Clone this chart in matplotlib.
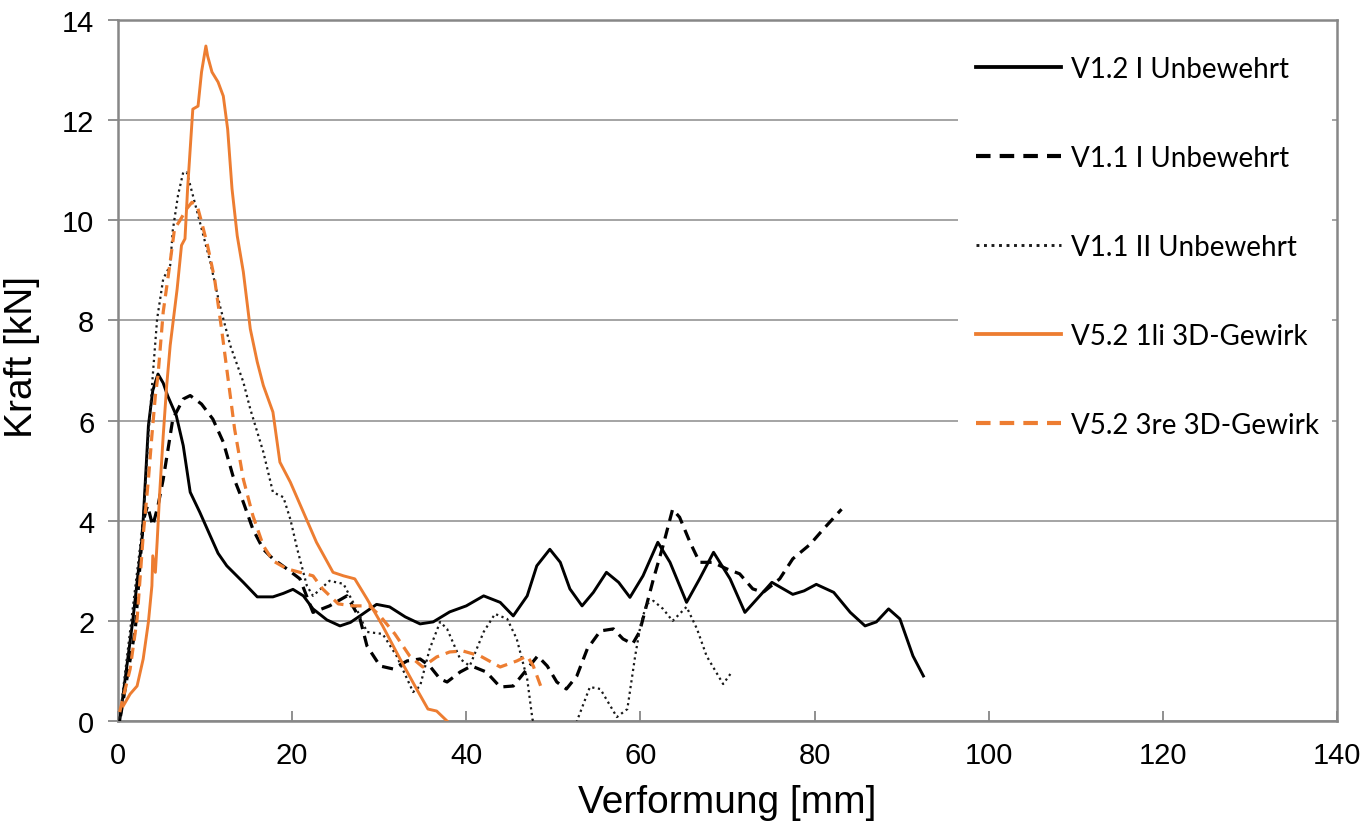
import matplotlib
matplotlib.use('Agg')
import matplotlib.pyplot as plt
from matplotlib.patches import Rectangle

# Data: Verformung [mm] vs Kraft [kN]
LABELS = ['V1.2 I Unbewehrt', 'V1.1 I Unbewehrt', 'V1.1 II Unbewehrt',
          'V5.2 1li 3D-Gewirk', 'V5.2 3re 3D-Gewirk']

v12_x = [0.2, 1.7, 2.8, 3.5, 4.0, 4.6, 5.2, 5.7, 6.7, 7.5, 8.3, 9.4, 10.6, 11.5, 12.5, 14.4,
         16.0, 17.8, 19.0, 20.1, 21.3, 22.4, 24.0, 25.5, 26.7, 27.8, 29.7, 31.2, 33.0, 34.7, 36.2, 38.1,
         40.0, 42.0, 43.9, 45.4, 47.0, 48.1, 49.6, 50.8, 51.9, 53.3, 54.6, 56.1,
         57.5, 58.8, 60.3, 62.0, 63.4, 65.3, 66.8, 68.4, 70.3, 72.0, 73.4, 75.1,
         76.4, 77.5, 78.8, 80.2, 82.2, 84.1, 85.8, 87.1, 88.5, 89.8, 91.3, 92.5]
v12_y = [0.0, 2.0, 3.7, 5.9, 6.6, 6.93, 6.75, 6.5, 6.1, 5.5, 4.57, 4.17, 3.7, 3.35, 3.1, 2.77,
         2.48, 2.48, 2.55, 2.63, 2.5, 2.24, 2.02, 1.9, 1.97, 2.1, 2.33, 2.28, 2.08, 1.94, 1.98, 2.18,
         2.3, 2.5, 2.37, 2.1, 2.5, 3.1, 3.43, 3.17, 2.64, 2.3, 2.57, 2.97,
         2.77, 2.47, 2.9, 3.57, 3.17, 2.37, 2.84, 3.37, 2.84, 2.17, 2.44, 2.77,
         2.64, 2.53, 2.6, 2.73, 2.57, 2.17, 1.9, 1.98, 2.24, 2.04, 1.3, 0.9]

v11_x = [0.3, 2.0, 2.9, 3.4, 4.0, 4.6, 5.2, 5.7, 6.3, 7.5, 8.3, 9.6, 10.9, 12.1,
         13.2, 14.4, 15.5, 16.7, 17.8, 19.4, 20.9, 22.4, 24.3, 26.3, 27.8, 28.6,
         30.1, 31.6, 33.2, 34.7, 35.8, 37.0, 37.8, 39.3, 40.6, 42.3, 43.9, 45.4,
         47.0, 48.2, 49.3, 50.4, 51.5, 52.7, 53.9, 55.4, 56.9, 58.0, 59.1, 59.9,
         61.5, 62.6, 63.7, 64.5, 65.7, 66.8, 68.3, 69.9, 71.4, 72.9, 74.1, 76.0,
         77.5, 79.5, 81.0, 83.1]
v11_y = [0.1, 1.84, 4.0, 4.3, 3.9, 4.3, 4.83, 5.37, 6.03, 6.43, 6.5, 6.33, 6.03, 5.57,
         4.9, 4.37, 3.83, 3.43, 3.24, 3.04, 2.84, 2.17, 2.3, 2.5, 2.04, 1.5,
         1.1, 1.04, 1.2, 1.24, 1.1, 0.84, 0.78, 0.98, 1.1, 0.98, 0.68, 0.7,
         1.04, 1.3, 1.1, 0.78, 0.64, 0.9, 1.44, 1.8, 1.84, 1.64, 1.54, 1.78,
         2.84, 3.5, 4.23, 4.07, 3.57, 3.17, 3.17, 3.04, 2.94, 2.64, 2.57, 2.84,
         3.24, 3.53, 3.83, 4.23]

v11b_x = [0.2, 2.9, 3.5, 4.0, 4.5, 5.2, 6.0, 6.3, 6.9, 7.5, 7.9, 8.3, 9.4, 10.6,
          11.7, 12.9, 14.4, 15.2, 16.7, 17.8, 19.0, 19.8, 20.6, 21.7, 22.4, 24.3,
          25.9, 27.4, 28.6, 30.4, 32.0, 33.9, 34.7, 35.8, 37.0, 37.8, 39.3, 40.4,
          42.0, 43.3, 44.7, 45.8, 47.0, 47.6, 49.0, 51.5, 52.8, 54.2, 55.4, 57.3,
          58.5, 59.4, 60.0, 60.7, 61.5, 62.6, 63.7, 65.3, 66.5, 67.6, 69.5, 70.5]
v11b_y = [0.05, 4.0, 5.7, 6.9, 8.03, 8.83, 9.1, 9.8, 10.5, 10.96, 10.96, 10.7, 9.97, 9.17,
          8.3, 7.5, 6.77, 6.23, 5.37, 4.57, 4.47, 4.03, 3.43, 2.7, 2.5, 2.8,
          2.74, 2.24, 1.78, 1.74, 1.3, 0.58, 0.7, 1.44, 1.98, 1.84, 1.24, 1.1,
          1.78, 2.14, 2.04, 1.64, 0.84, 0.04, -0.6, -0.6, 0.04, 0.68, 0.64, 0.08,
          0.24, 1.3, 1.9, 2.34, 2.4, 2.24, 2.0, 2.28, 1.84, 1.3, 0.74, 0.98]

v52l_x = [0.6, 1.4, 2.2, 2.9, 3.5, 3.9, 4.0, 4.3, 4.5, 4.8, 5.2, 5.6, 6.0, 6.8,
          7.3, 7.7, 8.0, 8.5, 8.6, 9.2, 9.6, 10.1, 10.3, 10.8, 11.5, 12.1, 12.6,
          13.1, 13.7, 14.4, 15.2, 16.0, 16.7, 17.8, 18.6, 19.8, 21.3, 22.8, 24.7,
          25.9, 27.2, 28.6, 30.4, 32.4, 34.3, 35.6, 36.6, 37.8]
v52l_y = [0.3, 0.54, 0.7, 1.24, 1.98, 2.7, 3.3, 2.97, 3.57, 4.57, 5.7, 6.7, 7.5, 8.63,
          9.5, 9.63, 10.63, 11.96, 12.22, 12.28, 12.96, 13.48, 13.28, 12.96, 12.76, 12.48, 11.82,
          10.63, 9.69, 8.97, 7.83, 7.17, 6.7, 6.17, 5.17, 4.77, 4.17, 3.57, 2.97,
          2.9, 2.84, 2.44, 1.9, 1.24, 0.64, 0.24, 0.2, 0.0]

v52r_x = [0.2, 1.4, 2.2, 2.9, 3.5, 3.9, 4.3, 4.6, 5.2, 6.0, 6.5, 7.1, 7.9, 8.5,
          9.1, 9.6, 10.3, 11.1, 11.9, 12.5, 13.4, 14.4, 15.5, 16.7, 17.8, 19.4,
          20.9, 22.4, 23.5, 25.3, 27.0, 28.9, 30.1, 31.8, 33.5, 35.0, 36.6, 38.1,
          39.6, 41.6, 43.9, 45.8, 47.0, 47.7, 48.8]
v52r_y = [0.18, 1.04, 2.04, 3.7, 4.83, 5.7, 6.5, 6.9, 8.17, 9.17, 9.83, 9.99, 10.23, 10.36,
          10.29, 9.97, 9.49, 8.83, 7.83, 7.03, 5.83, 4.83, 4.1, 3.5, 3.2, 3.04,
          2.97, 2.9, 2.64, 2.34, 2.3, 2.3, 2.1, 1.74, 1.3, 1.08, 1.28, 1.38,
          1.4, 1.3, 1.08, 1.2, 1.3, 1.1, 0.58]

X_TICKS = [0, 20, 40, 60, 80, 100, 120, 140]
Y_TICKS = [0, 2, 4, 6, 8, 10, 12, 14]

ORANGE = '#ED7D31'
GRAY = '#878787'
AX_FONT = ['Liberation Sans', 'DejaVu Sans']

fig = plt.figure(figsize=(13.65, 8.29), dpi=100)
ax = fig.add_axes([0.0864, 0.129, 0.8931, 0.8457])

ax.plot(v12_x, v12_y, color='black', lw=2.1, solid_joinstyle='round', label=LABELS[0], zorder=3)
ax.plot(v11_x, v11_y, color='black', lw=2.3, dashes=(3.5, 2.2), label=LABELS[1], zorder=3)
ax.plot(v11b_x, v11b_y, color='#1a1a1a', lw=1.6, dashes=(1, 1.6), label=LABELS[2], zorder=3)
ax.plot(v52l_x, v52l_y, color=ORANGE, lw=2.1, solid_joinstyle='round', label=LABELS[3], zorder=3)
ax.plot(v52r_x, v52r_y, color=ORANGE, lw=2.3, dashes=(3.5, 2.2), label=LABELS[4], zorder=3)

ax.set_xlim(0, 140)
ax.set_ylim(0, 14)
ax.set_xticks(X_TICKS)
ax.set_yticks(Y_TICKS)
ax.set_xticklabels([str(t) for t in X_TICKS], family=AX_FONT, fontsize=21)
ax.set_yticklabels([str(t) for t in Y_TICKS], family=AX_FONT, fontsize=21)

ax.set_axisbelow(True)
ax.yaxis.grid(True, color='#8c8c8c', lw=1.1)
for s in ax.spines.values():
    s.set_color(GRAY)
    s.set_linewidth(1.8)
ax.tick_params(axis='y', direction='out', length=7, width=1.3, color=GRAY, pad=10)
ax.tick_params(axis='x', direction='in', length=7, width=1.3, color=GRAY, pad=14)

# white legend area hides the gridlines on the right
ax.add_patch(Rectangle((0.689, 0.36), 0.307, 0.64, transform=ax.transAxes,
                       facecolor='white', edgecolor='none', zorder=1))

ax.set_xlabel('Verformung [mm]', family=AX_FONT, fontsize=28)
ax.set_ylabel('Kraft [kN]', family=AX_FONT, fontsize=28)
ax.xaxis.set_label_coords(0.5, -0.09)
ax.yaxis.set_label_coords(-0.064, 0.52)

leg = ax.legend(loc='upper left', bbox_to_anchor=(0.695, 0.965), frameon=False,
                prop={'family': 'Lato', 'size': 20}, handlelength=3.05,
                handletextpad=0.35, labelspacing=2.27, borderaxespad=0)
for h in leg.get_lines():
    h.set_linewidth(h.get_linewidth() * 1.3)

fig.savefig('out.png', dpi=100)
